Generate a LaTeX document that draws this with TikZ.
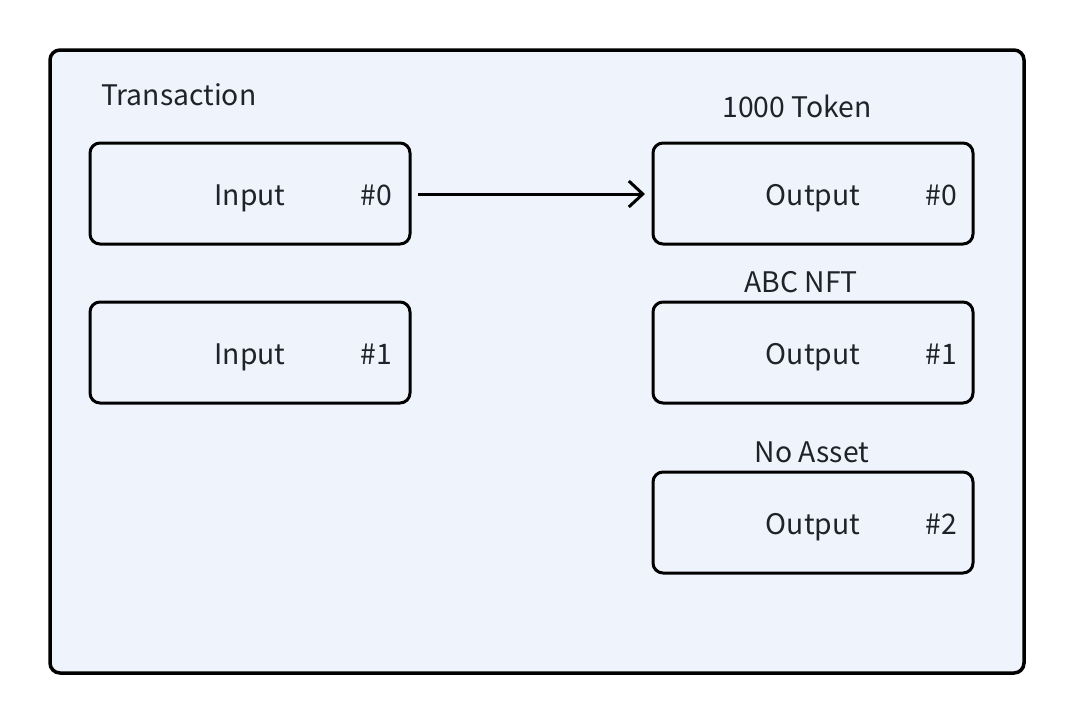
\documentclass[tikz,border=0pt]{standalone}
\usepackage{fontspec}
\setmainfont{Noto Sans CJK SC}
\usetikzlibrary{arrows.meta}
\definecolor{bgfill}{HTML}{EFF4FC}
\definecolor{txt}{HTML}{1F2329}
\begin{document}
\begin{tikzpicture}[x=1pt,y=-1pt,
  outer/.style={draw=black,line width=3.5pt,fill=bgfill,rounded corners=10pt},
  ubox/.style={draw=black,line width=3pt,rounded corners=10pt},
  lbl/.style={text=txt,font=\fontsize{28.3}{32}\selectfont,inner sep=0pt,anchor=base},
  conn/.style={draw=black,line width=3pt,-{Straight Barb[length=14pt,width=26pt,line width=3pt]}}]
\useasboundingbox (0,0) rectangle (1076,724);
\draw[outer] (50,50) rectangle (1024,673);
\node[lbl,anchor=base west] (title) at (101,105) {Transaction};
% inputs
\draw[ubox] (90,143) rectangle (410,244);
\coordinate (in0) at (410,194);
\node[lbl] (in0t) at (250,205) {Input};
\node[lbl] (in0n) at (376,205) {\#0};
\draw[ubox] (90,302) rectangle (410,403);
\node[lbl] (in1t) at (250,364) {Input};
\node[lbl] (in1n) at (376,364) {\#1};
% outputs
\draw[ubox] (653,143) rectangle (973,244);
\coordinate (out0) at (653,194);
\node[lbl] (out0t) at (813,205) {Output};
\node[lbl] (out0n) at (941,205) {\#0};
\node[lbl] (l0) at (797,117) {1000 Token};
\draw[ubox] (653,302) rectangle (973,403);
\node[lbl] (out1t) at (813,364) {Output};
\node[lbl] (out1n) at (941,364) {\#1};
\node[lbl] (l1) at (801,292) {ABC NFT};
\draw[ubox] (653,472) rectangle (973,573);
\node[lbl] (out2t) at (813,534) {Output};
\node[lbl] (out2n) at (941,534) {\#2};
\node[lbl] (l2) at (812,462) {No Asset};
% connector
\draw[conn] ([xshift=8pt]in0) -- ([xshift=-8pt]out0);
\end{tikzpicture}
\end{document}
